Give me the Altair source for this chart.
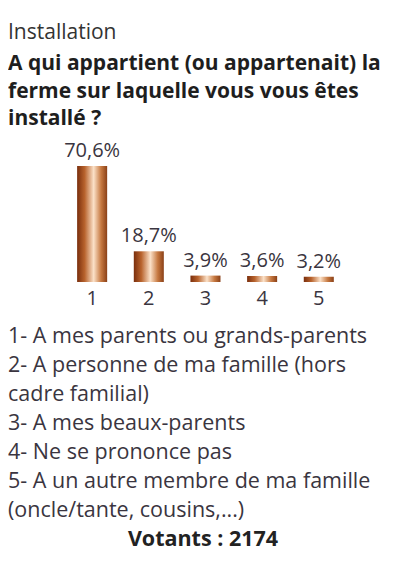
import altair as alt
import pandas as pd

# ---- data ----
categories = ["1", "2", "3", "4", "5"]
values = [70.6, 18.7, 3.9, 3.6, 3.2]
value_labels = ["70,6%", "18,7%", "3,9%", "3,6%", "3,2%"]

title_text = "Installation"
question_lines = [
    "A qui appartient (ou appartenait) la",
    "ferme sur laquelle vous vous êtes",
    "installé ?",
]
legend_lines = [
    "1- A mes parents ou grands-parents",
    "2- A personne de ma famille (hors",
    "cadre familial)",
    "3- A mes beaux-parents",
    "4- Ne se prononce pas",
    "5- A un autre membre de ma famille",
    "(oncle/tante, cousins,...)",
]
voters_text = "Votants : 2174"

FONT = "Open Sans"
TEXT = "#3a3540"

df = pd.DataFrame({"cat": categories, "val": values, "lab": value_labels})
df_leg = pd.DataFrame({"i": list(range(len(legend_lines))), "line": legend_lines})
df_vot = pd.DataFrame({"i": [len(legend_lines)], "line": [voters_text]})

grad = alt.LinearGradient(
    gradient="linear", x1=0, x2=1, y1=0, y2=0,
    stops=[
        alt.GradientStop(offset=0, color="#7a2e0c"),
        alt.GradientStop(offset=0.25, color="#b8632d"),
        alt.GradientStop(offset=0.55, color="#fbe1c8"),
        alt.GradientStop(offset=0.8, color="#c67840"),
        alt.GradientStop(offset=1, color="#8a4017"),
    ],
)

WB = 370
W = 390
base = alt.Chart(df).encode(
    x=alt.X(
        "cat:N",
        sort=categories,
        scale=alt.Scale(paddingInner=0.47, paddingOuter=1, align=0.61),
        axis=alt.Axis(title=None, labelAngle=0, domain=False, ticks=False,
                      labelFontSize=20, labelColor=TEXT, labelPadding=6,
                      labelFont=FONT),
    ),
    y=alt.Y("val:Q", scale=alt.Scale(domain=[0, 86.5]), axis=None),
)
bars = base.mark_bar(color=grad)
labels = base.mark_text(baseline="bottom", dy=-5, fontSize=20, font=FONT,
                        color=TEXT).encode(text="lab:N")
bar_chart = alt.layer(bars, labels).properties(width=WB, height=142)

yscale = alt.Scale(domain=list(range(len(legend_lines) + 1)))
leg = alt.Chart(df_leg).mark_text(align="left", baseline="middle", fontSize=21.5,
                                  font=FONT, color=TEXT).encode(
    y=alt.Y("i:O", scale=yscale, axis=None),
    x=alt.value(0),
    text="line:N",
)
vot = alt.Chart(df_vot).mark_text(align="center", baseline="middle", fontSize=21.5,
                                  font=FONT, fontWeight="bold",
                                  color="#222222").encode(
    y=alt.Y("i:O", scale=yscale, axis=None),
    x=alt.value(W / 2),
    text="line:N",
)
leg_chart = alt.layer(leg, vot).properties(width=W, height=232)

chart = alt.vconcat(bar_chart, leg_chart, spacing=14).properties(
    title=alt.TitleParams(
        text=title_text,
        subtitle=question_lines,
        anchor="start",
        font=FONT,
        fontSize=21,
        fontWeight="normal",
        color="#333333",
        subtitleFont=FONT,
        subtitleFontSize=21,
        subtitleFontWeight="bold",
        subtitleColor="#1e1e1e",
        subtitleLineHeight=27.5,
        subtitlePadding=10,
        offset=11,
    ),
    padding={"left": 0, "top": 14, "right": 0, "bottom": 0},
).configure(background="white", view=alt.ViewConfig(stroke=None))

chart.save("out.html", embed_options={"renderer": "svg", "actions": False})
